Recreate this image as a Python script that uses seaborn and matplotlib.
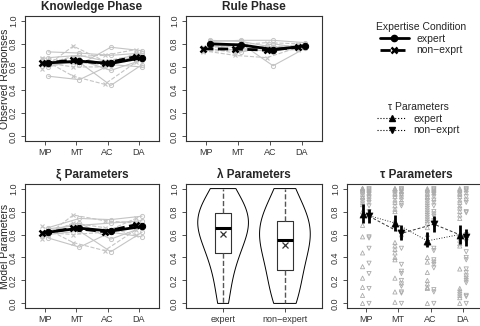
import numpy as np
import pandas as pd
import matplotlib
matplotlib.use('Agg')
import matplotlib.pyplot as plt
from matplotlib.lines import Line2D
import seaborn as sns

#========================= Data ========================
phases = ['MP', 'MT', 'AC', 'DA']

# Knowledge phase: group means and some individual participants
know_exp_mean = [0.635, 0.65, 0.63, 0.68]
know_non_mean = [0.63, 0.66, 0.63, 0.69]
know_exp_ind = [[0.73, 0.72, 0.70, 0.72],
                [0.52, 0.49, 0.62, 0.60],
                [0.65, 0.62, 0.77, 0.74],
                [0.60, 0.66, 0.57, 0.66],
                [0.68, 0.70, 0.64, 0.70],
                [0.62, 0.64, 0.44, 0.62]]
know_non_ind = [[0.58, 0.78, 0.65, 0.70],
                [0.67, 0.52, 0.45, 0.64],
                [0.62, 0.69, 0.70, 0.75],
                [0.64, 0.60, 0.60, 0.72],
                [0.68, 0.64, 0.62, 0.66]]

# Rule phase
rule_exp_mean = [0.80, 0.79, 0.75, 0.78]
rule_non_mean = [0.755, 0.755, 0.745, 0.77]
rule_exp_ind = [[0.82, 0.83, 0.83, 0.81],
                [0.78, 0.80, 0.61, 0.76],
                [0.80, 0.76, 0.73, 0.80],
                [0.83, 0.82, 0.77, 0.78],
                [0.79, 0.73, 0.80, 0.76]]
rule_non_ind = [[0.74, 0.70, 0.68, 0.77],
                [0.76, 0.79, 0.81, 0.80],
                [0.73, 0.75, 0.74, 0.75],
                [0.77, 0.72, 0.77, 0.79]]

# xi parameters
xi_exp_mean = [0.62, 0.655, 0.63, 0.67]
xi_non_mean = [0.61, 0.655, 0.625, 0.685]
xi_exp_ind = [[0.66, 0.74, 0.73, 0.76],
              [0.57, 0.49, 0.62, 0.58],
              [0.63, 0.70, 0.56, 0.66],
              [0.60, 0.63, 0.45, 0.62],
              [0.65, 0.68, 0.70, 0.72]]
xi_non_ind = [[0.56, 0.77, 0.72, 0.70],
              [0.67, 0.53, 0.46, 0.64],
              [0.62, 0.60, 0.62, 0.74],
              [0.59, 0.70, 0.66, 0.60]]

# lambda parameters (one value per participant)
lam_groups = ['expert', 'non\u2212expert']
lam_exp = [0.0, 0.1, 0.25, 0.35, 0.42, 0.45, 0.5, 0.58, 0.63, 0.65,
           0.67, 0.7, 0.72, 0.75, 0.78, 0.8, 0.85, 0.9, 0.95, 1.0]
lam_non = [0.0, 0.02, 0.08, 0.15, 0.28, 0.3, 0.35, 0.42, 0.5, 0.54,
           0.56, 0.6, 0.63, 0.67, 0.71, 0.73, 0.78, 0.85, 0.93, 1.0]

# tau parameters: individual estimates per phase, plus means and intervals
tau_exp_pts = [[1.0, 1.0, 1.0, 0.99, 0.98, 0.97, 0.95, 0.93, 0.92, 0.9, 0.88, 0.86,
                0.8, 0.68, 0.58, 0.44, 0.32, 0.22, 0.14, 0.07, 0.0],
               [1.0, 1.0, 0.99, 0.98, 0.96, 0.95, 0.93, 0.9, 0.88, 0.85, 0.82, 0.8,
                0.72, 0.68, 0.53, 0.5, 0.47, 0.44, 0.40, 0.38, 0.22, 0.1, 0.01],
               [1.0, 0.99, 0.98, 0.96, 0.95, 0.93, 0.92, 0.9, 0.88, 0.86, 0.84, 0.82,
                0.8, 0.78, 0.76, 0.74, 0.72, 0.7, 0.66, 0.6, 0.52, 0.4, 0.36, 0.27,
                0.2, 0.17, 0.14, 0.13, 0.0],
               [1.0, 0.99, 0.98, 0.96, 0.95, 0.93, 0.9, 0.88, 0.85, 0.83, 0.8, 0.77,
                0.74, 0.6, 0.55, 0.52, 0.5, 0.3, 0.13, 0.11, 0.09, 0.07, 0.05, 0.0]]
tau_non_pts = [[1.0, 0.99, 0.98, 0.97, 0.96, 0.95, 0.93, 0.92, 0.9, 0.88, 0.85,
                0.8, 0.75, 0.58, 0.57, 0.48, 0.35, 0.26, 0.13, 0.0],
               [1.0, 0.99, 0.98, 0.97, 0.95, 0.94, 0.92, 0.9, 0.87, 0.85, 0.62, 0.57,
                0.48, 0.34, 0.28, 0.26, 0.2, 0.17, 0.15, 0.1, 0.09, 0.0],
               [1.0, 0.99, 0.98, 0.97, 0.96, 0.95, 0.93, 0.9, 0.88, 0.85, 0.8, 0.78,
                0.76, 0.72, 0.48, 0.46, 0.38, 0.36, 0.34, 0.31, 0.12, 0.1, 0.0],
               [1.0, 0.99, 0.98, 0.96, 0.93, 0.9, 0.88, 0.8, 0.79, 0.6, 0.58, 0.54,
                0.45, 0.4, 0.38, 0.3, 0.27, 0.24, 0.22, 0.2, 0.18, 0.07, 0.06, 0.0]]
tau_exp_mean = [0.78, 0.70, 0.545, 0.60]
tau_exp_lo = [0.70, 0.63, 0.49, 0.52]
tau_exp_hi = [0.87, 0.77, 0.62, 0.68]
tau_non_mean = [0.76, 0.61, 0.69, 0.575]
tau_non_lo = [0.70, 0.55, 0.62, 0.50]
tau_non_hi = [0.82, 0.68, 0.76, 0.65]

#========================= Figure setup =======================================
sns.set_style('white')
plt.rcParams['font.family'] = ['Liberation Sans', 'DejaVu Sans']
plt.rcParams['axes.edgecolor'] = '#333333'
plt.rcParams['axes.linewidth'] = 0.8

W, H = 481, 326
fig = plt.figure(figsize=(W / 100, H / 100), dpi=100)

def pos(left, top, w, h):
    return [left / W, 1 - (top + h) / H, w / W, h / H]

GREY = '#c4c4c4'
TAU_GREY = '#ababab'

def r_style(ax, title):
    ax.set_ylim(-0.04, 1.04)
    ax.set_yticks(np.arange(0, 1.01, 0.2))
    ax.set_yticklabels(['%.1f' % v for v in np.arange(0, 1.01, 0.2)],
                       rotation=90, va='center')
    ax.tick_params(direction='out', length=3, width=0.6, colors='#333333',
                   labelsize=6.5, pad=2, left=True, bottom=True)
    ax.set_xlabel('')
    ax.set_ylabel('')
    ax.set_title(title, fontsize=8.5, fontweight='bold', pad=4)
    for s in ax.spines.values():
        s.set_visible(True)

def long_df(rows):
    recs = []
    for i, r in enumerate(rows):
        for j, v in enumerate(r):
            recs.append({'id': i, 'x': j, 'y': v})
    return pd.DataFrame(recs)

def phase_panel(ax, title, exp_ind, non_ind, exp_mean, non_mean):
    off = 0.1
    de = long_df(exp_ind)
    de['x'] = de['x'] + off
    dn = long_df(non_ind)
    dn['x'] = dn['x'] - off
    sns.lineplot(data=de, x='x', y='y', units='id', estimator=None, ax=ax,
                 color=GREY, lw=0.8, marker='o', ms=3, mfc='none', mec=GREY, mew=0.7)
    sns.lineplot(data=dn, x='x', y='y', units='id', estimator=None, ax=ax,
                 color=GREY, lw=0.8, ls='--', marker='x', ms=3.5, mec=GREY, mew=0.8)
    xs = np.arange(len(phases))
    sns.lineplot(x=xs - off, y=non_mean, ax=ax, color='black', lw=2, ls='--',
                 marker='x', ms=4.5, mew=1.8, mec='black')
    sns.lineplot(x=xs + off, y=exp_mean, ax=ax, color='black', lw=2,
                 marker='o', ms=4.5, mec='black')
    ax.set_xlim(-0.64, 3.64)
    ax.set_xticks(xs)
    ax.set_xticklabels(phases)
    r_style(ax, title)

#========================= Top row ============================================
ax1 = fig.add_axes(pos(25, 16, 134, 125))
phase_panel(ax1, 'Knowledge Phase', know_exp_ind, know_non_ind,
            know_exp_mean, know_non_mean)
ax2 = fig.add_axes(pos(186, 16, 136, 125))
phase_panel(ax2, 'Rule Phase', rule_exp_ind, rule_non_ind,
            rule_exp_mean, rule_non_mean)

#========================= Bottom row =========================================
ax4 = fig.add_axes(pos(25, 184, 134, 124))
phase_panel(ax4, '\u03be Parameters', xi_exp_ind, xi_non_ind,
            xi_exp_mean, xi_non_mean)

ax5 = fig.add_axes(pos(186, 184, 136, 124))
lam_df = pd.DataFrame({'group': [lam_groups[0]] * len(lam_exp) + [lam_groups[1]] * len(lam_non),
                       'value': lam_exp + lam_non})
sns.violinplot(data=lam_df, x='group', y='value', order=lam_groups, ax=ax5,
               cut=0, inner=None, fill=False, color='black', linewidth=0.7,
               width=0.82, density_norm='width', bw_adjust=1.15)
sns.boxplot(data=lam_df, x='group', y='value', order=lam_groups, ax=ax5,
            width=0.26, whis=(0, 100), fill=False, color='#333333',
            linewidth=0.8, showcaps=False, showfliers=False, showmeans=True,
            boxprops=dict(color='#333333'),
            whiskerprops=dict(ls='--', lw=1.0, color='#555555'),
            medianprops=dict(lw=2.2, color='black'),
            meanprops=dict(marker='x', mec='#333333', ms=5, mew=0.9))
ax5.set_xlim(-0.6, 1.6)
r_style(ax5, '\u03bb Parameters')

ax6 = fig.add_axes(pos(347, 184, 139, 124))
off = 0.1
xs = np.arange(len(phases))
te = pd.DataFrame([{'x': j - off, 'y': v} for j, r in enumerate(tau_exp_pts) for v in r])
tn = pd.DataFrame([{'x': j + off, 'y': v} for j, r in enumerate(tau_non_pts) for v in r])
sns.scatterplot(data=te, x='x', y='y', ax=ax6, marker='^', s=9,
                facecolor='none', edgecolor=TAU_GREY, linewidth=0.6)
sns.scatterplot(data=tn, x='x', y='y', ax=ax6, marker='v', s=9,
                facecolor='none', edgecolor=TAU_GREY, linewidth=0.6)
sns.lineplot(x=xs - off, y=tau_exp_mean, ax=ax6, color='#333333', lw=0.7, ls=':')
sns.lineplot(x=xs + off, y=tau_non_mean, ax=ax6, color='#333333', lw=0.7, ls=(0, (3, 2)))
ax6.vlines(xs - off, tau_exp_lo, tau_exp_hi, color='black', lw=2)
ax6.vlines(xs + off, tau_non_lo, tau_non_hi, color='black', lw=2)
sns.scatterplot(x=xs - off, y=tau_exp_mean, ax=ax6, marker='^', s=26,
                color='black', edgecolor='black', zorder=4)
sns.scatterplot(x=xs + off, y=tau_non_mean, ax=ax6, marker='v', s=26,
                color='black', edgecolor='black', zorder=4)
ax6.set_xlim(-0.58, 3.71)
ax6.set_xticks(xs)
ax6.set_xticklabels(phases)
r_style(ax6, '\u03c4 Parameters')

#========================= Axis labels and legends ============================
fig.text(5.5 / W, 1 - 79 / H, 'Observed Responses', rotation=90, ha='center',
         va='center', fontsize=7.5)
fig.text(5.5 / W, 1 - 246 / H, 'Model Parameters', rotation=90, ha='center',
         va='center', fontsize=7.5)

h_exp = Line2D([], [], color='black', lw=2, marker='o', ms=4.5)
h_non = Line2D([], [], color='black', lw=2, ls='--', marker='x', ms=4.5, mew=1.8)
leg1 = fig.legend([h_exp, h_non], ['expert', 'non\u2212exprt'],
                  title='Expertise Condition', loc='upper left',
                  bbox_to_anchor=(371 / W, 1 - 17 / H), frameon=False,
                  fontsize=7.5, title_fontsize=7.5, handlelength=2.8,
                  handletextpad=0.7, labelspacing=0.15, borderpad=0)

t_exp = Line2D([], [], color='black', lw=0.8, ls=':', marker='^', ms=5)
t_non = Line2D([], [], color='black', lw=0.8, ls=':', marker='v', ms=5)
leg2 = fig.legend([t_exp, t_non], ['expert', 'non\u2212exprt'],
                  title='\u03c4 Parameters', loc='upper left',
                  bbox_to_anchor=(372 / W, 1 - 97 / H), frameon=False,
                  fontsize=7.5, title_fontsize=7.5, handlelength=2.8,
                  handletextpad=0.7, labelspacing=0.15, borderpad=0)

fig.savefig('out.png', dpi=100)
